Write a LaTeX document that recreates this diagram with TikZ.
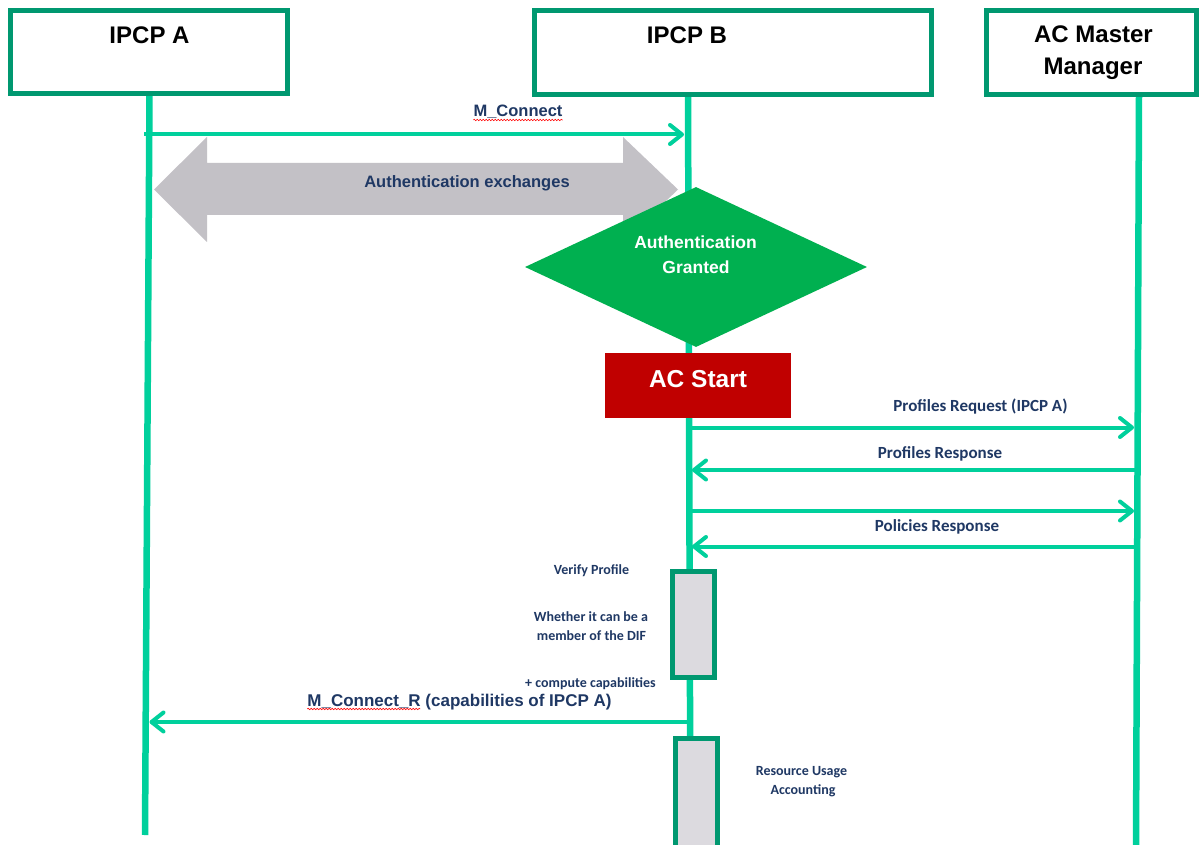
\documentclass[tikz,border=0pt]{standalone}
\usepackage{fontspec}
\setmainfont{Liberation Sans}
\newfontfamily\calibrif{Carlito}
\usetikzlibrary{arrows.meta,decorations.pathmorphing,shapes.geometric}

\definecolor{boxgreen}{RGB}{0,152,112}
\definecolor{lifegreen}{RGB}{0,208,156}
\definecolor{navytext}{RGB}{31,56,100}
\definecolor{arrowgray}{RGB}{195,193,198}
\definecolor{grantgreen}{RGB}{0,176,80}
\definecolor{startred}{RGB}{192,0,0}
\definecolor{actfill}{RGB}{220,218,223}

\begin{document}
\begin{tikzpicture}[x=1pt,y=-1pt,
  party/.style={draw=boxgreen, line width=5pt, fill=white, inner sep=0pt},
  partytitle/.style={anchor=base, inner sep=0pt, font=\fontsize{24}{24}\selectfont\bfseries},
  lifeline/.style={draw=lifegreen, line width=6.5pt},
  msg/.style={draw=lifegreen, line width=4pt, -{Straight Barb[length=12pt,width=19pt,round]}},
  msglabel/.style={anchor=base, inner sep=0pt, text=navytext, font=\fontsize{16.5}{16.5}\selectfont\bfseries},
  note/.style={anchor=base, inner sep=0pt, text=navytext, font=\calibrif\fontsize{17}{17}\selectfont\bfseries},
  smallnote/.style={anchor=base, inner sep=0pt, text=navytext, font=\calibrif\fontsize{14}{14}\selectfont\bfseries},
  activation/.style={draw=boxgreen, line width=4.5pt, fill=actfill, inner sep=0pt, minimum width=42pt},
  spellmark/.style={draw=red, line width=0.6pt, decorate, decoration={snake, amplitude=0.7pt, segment length=3pt}}
]
\useasboundingbox (0,0) rectangle (1200,845);
\clip (0,0) rectangle (1200,845);
\fill[white] (0,0) rectangle (1200,845);

% lifelines
\coordinate (topA) at (149.5,94);
\coordinate (endA) at (145,835);
\coordinate (topB) at (688,94);
\coordinate (endB) at (690.5,850);
\coordinate (topC) at (1139,95);
\coordinate (endC) at (1136,850);
\draw[lifeline] (topA) -- (endA);
\draw[lifeline] (topB) -- (endB);
\draw[lifeline] (topC) -- (endC);

% participant boxes
\node[party, minimum width=277pt, minimum height=83pt] (boxA) at (149,52) {};
\node[party, minimum width=396.5pt, minimum height=84pt] (boxB) at (732.75,52.5) {};
\node[party, minimum width=210pt, minimum height=83.5pt] (boxC) at (1091,52.75) {};
\node[partytitle] (titleA) at (149.5,44) {IPCP A};
\node[partytitle] (titleB) at (687,44) {IPCP B};
\node[partytitle] (titleC1) at (1093.5,43) {AC Master};
\node[partytitle] (titleC2) at (1093,75) {Manager};

% M_Connect request
\coordinate (mcA) at (144,134.5);
\coordinate (mcB) at (684,134.5);
\draw[msg] (mcA) -- (mcB);
\node[msglabel] (mcl) at (518,117) {M\_Connect};
\draw[spellmark] ([yshift=-3pt]mcl.base west) -- ([yshift=-3pt]mcl.base east);

% authentication exchanges
\path[fill=arrowgray] (154,189.5) -- (207,137) -- (207,163) -- (623,163) -- (623,137)
  -- (678,189.5) -- (623,242) -- (623,215) -- (207,215) -- (207,242) -- cycle;
\node[msglabel] (authx) at (467,188) {Authentication exchanges};

% authentication decision
\node[diamond, fill=grantgreen, inner sep=0pt, minimum width=342pt, minimum height=160pt] (grant) at (696,267) {};
\node[anchor=base, inner sep=0pt, text=white, font=\fontsize{17.5}{17.5}\selectfont\bfseries] (grant1) at (695.5,249) {Authentication};
\node[anchor=base, inner sep=0pt, text=white, font=\fontsize{17.5}{17.5}\selectfont\bfseries] (grant2) at (696,273) {Granted};

% AC start
\node[fill=startred, inner sep=0pt, minimum width=186pt, minimum height=65pt,
  text=white, font=\fontsize{24.5}{24.5}\selectfont\bfseries, text height=18pt, text depth=15pt] (acstart) at (698,385.5) {AC Start};

% exchanges with the AC master manager
\coordinate (r1B) at (691,427.5);  \coordinate (r1C) at (1134,427.5);
\coordinate (r2B) at (692,470);    \coordinate (r2C) at (1136,470);
\coordinate (r3B) at (691,511);    \coordinate (r3C) at (1134,511);
\coordinate (r4B) at (692,546.5);  \coordinate (r4C) at (1136,546.5);
\draw[msg] (r1B) -- (r1C);
\draw[msg] (r2C) -- (r2B);
\draw[msg] (r3B) -- (r3C);
\draw[msg] (r4C) -- (r4B);
\node[note] (preq) at (980.5,411) {Profiles Request (IPCP A)};
\node[note] (pres) at (940,458) {Profiles Response};
\node[note] (pol) at (937,531) {Policies Response};

% profile verification
\node[activation, minimum height=106pt] (act1) at (693.5,624.5) {};
\node[smallnote] (v1) at (591.5,574) {Verify Profile};
\node[smallnote] (v2) at (591,621) {Whether it can be a};
\node[smallnote] (v3) at (591.5,640) {member of the DIF};
\node[smallnote] (v4) at (590.5,687) {+ compute capabilities};

% M_Connect_R response
\coordinate (mrB) at (687,722);
\coordinate (mrA) at (149.5,722);
\draw[msg] (mrB) -- (mrA);
\node[msglabel, font=\fontsize{17}{17}\selectfont\bfseries] (mrl) at (459.5,706) {M\_Connect\_R (capabilities of IPCP A)};
\draw[spellmark] ([yshift=-3pt]mrl.base west) -- ++(113,0);

% resource usage accounting
\node[activation, minimum height=114pt] (act2) at (696.5,795.5) {};
\node[smallnote] (ru1) at (801.5,775) {Resource Usage};
\node[smallnote] (ru2) at (803,794) {Accounting};
\end{tikzpicture}
\end{document}
